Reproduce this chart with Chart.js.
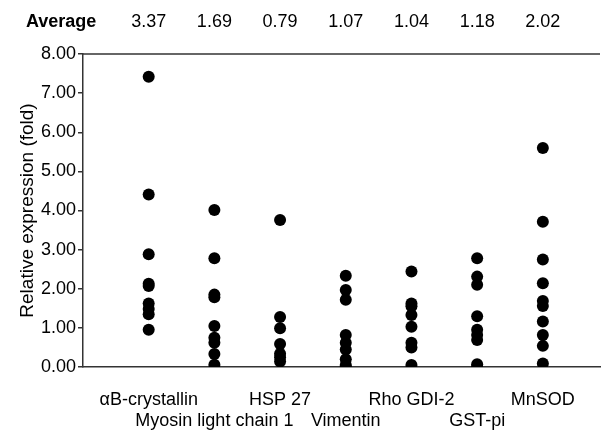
<!DOCTYPE html>
<html>
<head>
<meta charset="utf-8">
<script src="https://cdn.jsdelivr.net/npm/chart.js@4/dist/chart.umd.min.js"></script>
<style>
  html, body { margin: 0; padding: 0; background: #fff; }
  #wrap { width: 606px; height: 430px; }
</style>
</head>
<body>
<div id="wrap"><canvas id="chart"></canvas></div>
<script>
// Data
const genes = ['αB-crystallin', 'Myosin light chain 1', 'HSP 27', 'Vimentin', 'Rho GDI-2', 'GST-pi', 'MnSOD'];
const averages = ['3.37', '1.69', '0.79', '1.07', '1.04', '1.18', '2.02'];
const yTicks = [0, 1, 2, 3, 4, 5, 6, 7, 8];

const crystallin = [7.42, 4.41, 2.88, 2.13, 2.07, 1.62, 1.48, 1.35, 0.95];
const myosin = [4.01, 2.78, 1.85, 1.78, 1.05, 0.75, 0.62, 0.33, 0.06];
const hsp27 = [3.76, 1.28, 0.99, 0.59, 0.34, 0.25, 0.14];
const vimentin = [2.33, 1.97, 1.72, 0.82, 0.62, 0.45, 0.2, 0.05, 0.0];
const rhoGdi = [2.44, 1.62, 1.55, 1.33, 1.03, 0.62, 0.5, 0.05];
const gstPi = [2.78, 2.31, 2.1, 1.3, 0.95, 0.82, 0.69, 0.07, 0.0];
const mnsod = [5.6, 3.71, 2.75, 2.14, 1.69, 1.56, 1.16, 0.82, 0.54, 0.09];

const columns = [crystallin, myosin, hsp27, vimentin, rhoGdi, gstPi, mnsod];

const points = [];
columns.forEach((vals, i) => vals.forEach(v => points.push({ x: i, y: v })));

const FONT = 'Liberation Sans, Arial, Helvetica, sans-serif';
const AXIS = '#333';

// "Average" row and top frame line
const extras = {
  id: 'extras',
  afterDraw(chart) {
    const { ctx, chartArea, scales } = chart;
    ctx.save();
    ctx.strokeStyle = AXIS;
    ctx.lineWidth = 1.5;
    ctx.beginPath();
    ctx.moveTo(chartArea.left, chartArea.top);
    ctx.lineTo(chartArea.right, chartArea.top);
    ctx.stroke();

    ctx.fillStyle = '#000';
    ctx.textBaseline = 'middle';
    ctx.textAlign = 'left';
    ctx.font = 'bold 18px ' + FONT;
    ctx.fillText('Average', 26, 22);
    ctx.textAlign = 'center';
    ctx.font = '18px ' + FONT;
    averages.forEach((a, i) => {
      ctx.fillText(a, scales.x.getPixelForValue(i), 22);
    });
    ctx.restore();
  }
};

new Chart(document.getElementById('chart'), {
  type: 'scatter',
  data: {
    datasets: [{
      data: points,
      backgroundColor: '#000',
      borderColor: '#000',
      pointRadius: 6,
      pointHoverRadius: 6,
      borderWidth: 0
    }]
  },
  options: {
    responsive: true,
    maintainAspectRatio: false,
    animation: false,
    layout: { padding: { top: 54, left: 16, right: 0, bottom: 0 } },
    plugins: {
      legend: { display: false },
      tooltip: { enabled: false }
    },
    scales: {
      x: {
        type: 'linear',
        min: -1,
        max: 6.87,
        afterBuildTicks: s => { s.ticks = genes.map((g, i) => ({ value: i })); },
        afterFit: s => { s.height = 63; },
        grid: { display: false },
        border: { display: true, color: AXIS, width: 1.5 },
        ticks: {
          autoSkip: false,
          maxRotation: 0,
          padding: 14,
          color: '#000',
          font: { family: FONT, size: 18 },
          callback: v => (v % 2 === 0 ? [genes[v]] : ['', genes[v]])
        }
      },
      y: {
        min: 0,
        max: 8,
        afterBuildTicks: s => { s.ticks = yTicks.map(v => ({ value: v })); },
        afterFit: s => { s.width = 67; },
        grid: { drawOnChartArea: false, drawTicks: true, tickLength: 5, color: AXIS, lineWidth: 1.5 },
        border: { display: true, color: AXIS, width: 1.5 },
        ticks: {
          padding: 2,
          color: '#000',
          font: { family: FONT, size: 18 },
          callback: v => v.toFixed(2)
        },
        title: {
          display: true,
          text: 'Relative expression (fold)',
          color: '#000',
          font: { family: FONT, size: 19 },
          padding: 0
        }
      }
    }
  },
  plugins: [extras]
});
</script>
</body>
</html>
